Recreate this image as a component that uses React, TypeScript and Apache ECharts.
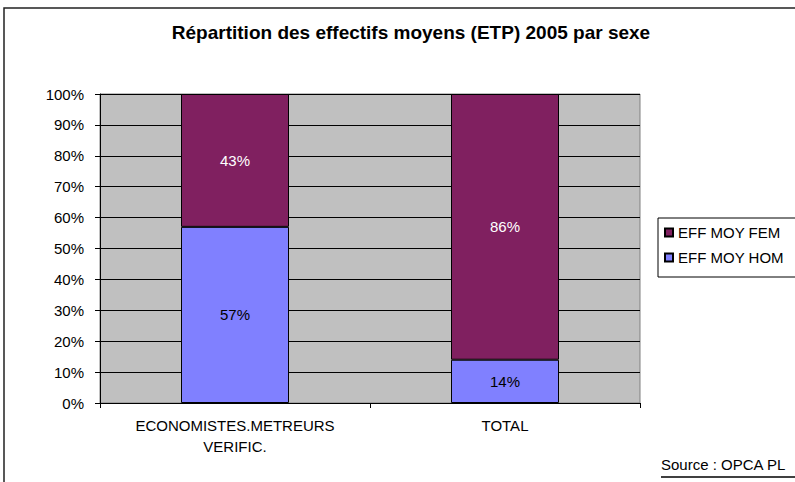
import React, { useEffect, useRef } from "react";
import * as echarts from "echarts";

const title = "Répartition des effectifs moyens (ETP) 2005 par sexe";
const categories = ["ECONOMISTES.METREURS\nVERIFIC.", "TOTAL"];
const seriesNames = ["EFF MOY HOM", "EFF MOY FEM"];
const homValues = [57, 14];
const femValues = [43, 86];
const legendOrder = ["EFF MOY FEM", "EFF MOY HOM"];
const sourceText = "Source : OPCA PL";

const FONT = "'Liberation Sans', Arial, sans-serif";

export default function App() {
  const ref = useRef<HTMLDivElement>(null);
  useEffect(() => {
    if (!ref.current) return;
    const chart = echarts.init(ref.current, null, { renderer: "svg" });
    chart.setOption({
      animation: false,
      backgroundColor: "#ffffff",
      textStyle: { fontFamily: FONT },
      title: {
        text: title,
        left: 406,
        textAlign: "center",
        top: 18,
        textStyle: { fontFamily: FONT, fontSize: 19, fontWeight: "bold", color: "#000" },
      },
      legend: {
        data: legendOrder,
        orient: "vertical",
        left: 658,
        top: 218,
        backgroundColor: "#ffffff",
        borderColor: "#000",
        borderWidth: 1,
        borderRadius: 0,
        padding: [7, 40, 12, 6],
        itemGap: 10,
        itemWidth: 8,
        itemHeight: 8,
        icon: "rect",
        textStyle: { fontFamily: FONT, fontSize: 15, color: "#000" },
      },
      grid: {
        left: 100,
        top: 94,
        width: 540,
        height: 309,
        show: true,
        backgroundColor: "#C0C0C0",
        borderColor: "#808080",
        borderWidth: 1,
      },
      xAxis: {
        type: "category",
        data: categories,
        axisLine: { lineStyle: { color: "#000", width: 1 } },
        axisTick: { show: true, length: 5, lineStyle: { color: "#000" } },
        axisLabel: {
          fontFamily: FONT,
          fontSize: 15,
          color: "#000",
          lineHeight: 21,
          margin: 12,
          interval: 0,
        },
      },
      yAxis: {
        type: "value",
        min: 0,
        max: 100,
        interval: 10,
        axisLine: { show: true, lineStyle: { color: "#000", width: 1 } },
        axisTick: { show: true, length: 5, lineStyle: { color: "#000" } },
        splitLine: { show: true, lineStyle: { color: "#000", width: 1 } },
        axisLabel: {
          fontFamily: FONT,
          fontSize: 15,
          color: "#000",
          margin: 16,
          formatter: "{value}%",
        },
      },
      series: [
        {
          name: seriesNames[0],
          type: "bar",
          stack: "total",
          barWidth: "40%",
          data: homValues,
          itemStyle: { color: "#8080FF", borderColor: "#000", borderWidth: 1 },
          label: {
            show: true,
            position: "inside",
            formatter: "{c}%",
            fontFamily: FONT,
            fontSize: 15,
            color: "#000",
          },
        },
        {
          name: seriesNames[1],
          type: "bar",
          stack: "total",
          barWidth: "40%",
          data: femValues,
          itemStyle: { color: "#802060", borderColor: "#000", borderWidth: 1 },
          label: {
            show: true,
            position: "inside",
            formatter: "{c}%",
            fontFamily: FONT,
            fontSize: 15,
            color: "#ffffff",
          },
        },
      ],
      graphic: [
        {
          type: "rect",
          shape: { x: 4, y: 8, width: 830, height: 520 },
          style: { fill: "none", stroke: "#222", lineWidth: 1.5 },
          silent: true,
          z: -1,
        },
        {
          type: "text",
          left: 661,
          top: 457,
          style: { text: sourceText, fontFamily: FONT, fontSize: 15, fill: "#000" },
        },
        {
          type: "line",
          shape: { x1: 661, y1: 477, x2: 800, y2: 477 },
          style: { stroke: "#000", lineWidth: 1.5 },
        },
      ],
    });
    return () => chart.dispose();
  }, []);
  return (
    <div
      ref={ref}
      style={{ position: "fixed", left: 0, top: 0, width: 795, height: 482 }}
    />
  );
}
